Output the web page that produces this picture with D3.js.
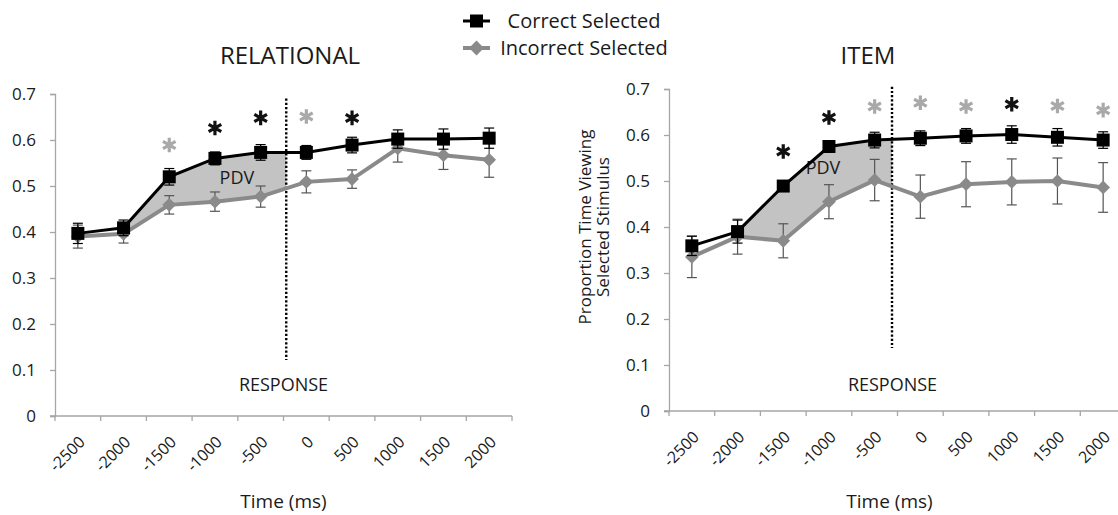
<!DOCTYPE html>
<html>
<head>
<meta charset="utf-8">
<script src="https://cdn.jsdelivr.net/npm/d3@7"></script>
<style>
  body { margin: 0; background: #fff; }
  text { font-family: "Open Sans", "Noto Sans", sans-serif; fill: #1a1a1a; }
</style>
</head>
<body>
<script>
// data
var timeLabels = ["-2500", "-2000", "-1500", "-1000", "-500", "0", "500", "1000", "1500", "2000"];
var yTicks = [0, 0.1, 0.2, 0.3, 0.4, 0.5, 0.6, 0.7];

var relCorrect = [0.397, 0.409, 0.520, 0.560, 0.573, 0.573, 0.589, 0.602, 0.602, 0.604];
var relCorrectErr = [0.022, 0.017, 0.018, 0.014, 0.017, 0.015, 0.017, 0.020, 0.022, 0.022];
var relIncorrect = [0.390, 0.396, 0.459, 0.466, 0.477, 0.509, 0.515, 0.582, 0.567, 0.557];
var relIncorrectErr = [0.025, 0.020, 0.020, 0.021, 0.023, 0.024, 0.020, 0.030, 0.031, 0.038];
var relStarIdx = [2, 3, 4, 5, 6];
var relStarVal = [0.589, 0.626, 0.648, 0.651, 0.648];
var relStarKind = ["incorrect", "correct", "correct", "incorrect", "correct"];

var itemCorrect = [0.359, 0.390, 0.489, 0.575, 0.589, 0.593, 0.598, 0.601, 0.595, 0.589];
var itemCorrectErr = [0.021, 0.025, 0.008, 0.012, 0.017, 0.016, 0.016, 0.019, 0.019, 0.018];
var itemIncorrect = [0.335, 0.379, 0.370, 0.455, 0.502, 0.466, 0.493, 0.498, 0.500, 0.486];
var itemIncorrectErr = [0.045, 0.038, 0.037, 0.037, 0.045, 0.047, 0.049, 0.050, 0.050, 0.054];
var itemStarIdx = [2, 3, 4, 5, 6, 7, 8, 9];
var itemStarVal = [0.564, 0.638, 0.662, 0.670, 0.662, 0.667, 0.663, 0.654];
var itemStarKind = ["correct", "correct", "incorrect", "incorrect", "incorrect", "correct", "incorrect", "incorrect"];

var seriesNames = ["Correct Selected", "Incorrect Selected"];

var colors = { correct: "#000", incorrect: "#8a8a8a", starCorrect: "#111", starIncorrect: "#a9a9a9" };

var svg = d3.select("body").append("svg")
    .attr("width", 1118)
    .attr("height", 515);

var panels = [
    {
        title: "RELATIONAL", titleX: 290, left: 55, top: 94, bottom: 416,
        correct: relCorrect, correctErr: relCorrectErr,
        incorrect: relIncorrect, incorrectErr: relIncorrectErr,
        starIdx: relStarIdx, starVal: relStarVal, starKind: relStarKind,
        respShift: 0.06, respTop: 0.69, respBottom: 0.122,
        pdvPos: 3.98, pdvVal: 0.517, yLabel: false
    },
    {
        title: "ITEM", titleX: 868, left: 669, top: 89, bottom: 411,
        correct: itemCorrect, correctErr: itemCorrectErr,
        incorrect: itemIncorrect, incorrectErr: itemIncorrectErr,
        starIdx: itemStarIdx, starVal: itemStarVal, starKind: itemStarKind,
        respShift: -0.12, respTop: 0.705, respBottom: 0.137,
        pdvPos: 3.37, pdvVal: 0.528, yLabel: true
    }
];

var bandW = 45.7;
var axisColor = "#a6a6a6";

panels.forEach(function (p, pi) {
    var x = d3.scaleBand()
        .domain(timeLabels)
        .range([p.left, p.left + bandW * timeLabels.length])
        .paddingInner(0).paddingOuter(0);
    var y = d3.scaleLinear().domain([0, 0.7]).range([p.bottom, p.top]);
    var cx = function (i) { return x(timeLabels[i]) + x.bandwidth() / 2; };
    // fractional band position -> pixel
    var fx = function (f) { return p.left + f * x.bandwidth(); };

    var g = svg.append("g");

    // y axis
    var yAxis = d3.axisLeft(y).tickValues(yTicks).tickSize(5).tickPadding(14)
        .tickFormat(d3.format(".1~f"));
    var yg = g.append("g").attr("transform", `translate(${p.left},0)`).call(yAxis);
    yg.select(".domain").attr("stroke", axisColor).attr("stroke-width", 1.3);
    yg.selectAll(".tick line").attr("stroke", axisColor).attr("stroke-width", 1.3);
    yg.selectAll(".tick text").style("font-size", "17px").attr("fill", "#1a1a1a")
        .style("font-family", "'Open Sans', sans-serif");

    // x axis, excel style: ticks between categories
    var x0 = x.range()[0], x1 = x.range()[1];
    g.append("line")
        .attr("x1", x0 - 5).attr("x2", x1)
        .attr("y1", y(0)).attr("y2", y(0))
        .attr("stroke", axisColor).attr("stroke-width", 1.3);
    g.selectAll(".xtick")
        .data(d3.range(timeLabels.length + 1))
        .enter().append("line")
        .attr("x1", d => fx(d)).attr("x2", d => fx(d))
        .attr("y1", y(0)).attr("y2", y(0) + 5)
        .attr("stroke", axisColor).attr("stroke-width", 1.3);
    g.selectAll(".xlabel")
        .data(timeLabels)
        .enter().append("text")
        .attr("transform", (d, i) => `translate(${cx(i) + 8},${y(0) + 27}) rotate(-45)`)
        .attr("text-anchor", "end")
        .style("font-size", "16px")
        .text(d => d);

    // axis titles
    g.append("text")
        .attr("x", (x0 + x1) / 2 - (pi === 0 ? 0 : 8)).attr("y", 508)
        .attr("text-anchor", "middle")
        .style("font-size", "19px")
        .text("Time (ms)");

    g.append("text")
        .attr("x", p.titleX).attr("y", 64)
        .attr("text-anchor", "middle")
        .style("font-size", "24px")
        .text(p.title);

    if (p.yLabel) {
        g.append("text")
            .attr("transform", `translate(591,227) rotate(-90)`)
            .attr("text-anchor", "middle")
            .style("font-size", "17px")
            .text("Proportion Time Viewing");
        g.append("text")
            .attr("transform", `translate(609,227) rotate(-90)`)
            .attr("text-anchor", "middle")
            .style("font-size", "17px")
            .text("Selected Stimulus");
    }

    // PDV shading between the two lines up to the response line
    var respX = fx(5 + p.respShift);
    var clipId = "clip" + pi;
    svg.append("clipPath").attr("id", clipId)
        .append("rect")
        .attr("x", cx(1)).attr("y", 0)
        .attr("width", respX - cx(1)).attr("height", 515);
    var area = d3.area()
        .x(d => cx(d))
        .y0(d => y(p.incorrect[d]))
        .y1(d => y(p.correct[d]));
    g.append("path")
        .datum(d3.range(1, 7))
        .attr("d", area)
        .attr("fill", "#c3c3c3")
        .attr("clip-path", `url(#${clipId})`);

    g.append("text")
        .attr("x", fx(p.pdvPos)).attr("y", y(p.pdvVal))
        .attr("text-anchor", "middle")
        .attr("dy", "0.35em")
        .style("font-size", "18px")
        .text("PDV");

    // response line
    g.append("line")
        .attr("x1", respX).attr("x2", respX)
        .attr("y1", y(p.respTop)).attr("y2", y(p.respBottom))
        .attr("stroke", "#000").attr("stroke-width", 2.4)
        .attr("stroke-dasharray", "2.2,2");
    g.append("text")
        .attr("x", fx(5) + (pi === 0 ? 0 : -5)).attr("y", 391)
        .attr("text-anchor", "middle")
        .style("font-size", "18px")
        .text("RESPONSE");

    var idx = d3.range(timeLabels.length);
    var line = function (vals) {
        return d3.line().x(d => cx(d)).y(d => y(vals[d]))(idx);
    };

    // incorrect series (drawn first)
    g.append("path").attr("d", line(p.incorrect))
        .attr("fill", "none").attr("stroke", colors.incorrect).attr("stroke-width", 4);
    drawErr(g, idx, cx, y, p.incorrect, p.incorrectErr, "#555");
    g.selectAll(".dia" + pi)
        .data(idx).enter().append("path")
        .attr("transform", d => `translate(${cx(d)},${y(p.incorrect[d])})`)
        .attr("d", d3.symbol().type(d3.symbolDiamond2 || d3.symbolDiamond).size(120)())
        .attr("fill", colors.incorrect);

    // correct series
    g.append("path").attr("d", line(p.correct))
        .attr("fill", "none").attr("stroke", colors.correct).attr("stroke-width", 3);
    drawErr(g, idx, cx, y, p.correct, p.correctErr, "#000");
    g.selectAll(".sq" + pi)
        .data(idx).enter().append("rect")
        .attr("x", d => cx(d) - 6.5).attr("y", d => y(p.correct[d]) - 6.5)
        .attr("width", 13).attr("height", 13)
        .attr("fill", colors.correct);

    // significance stars
    g.selectAll(".star" + pi)
        .data(p.starIdx).enter().append("path")
        .attr("transform", (d, k) => `translate(${cx(d)},${y(p.starVal[k])})`)
        .attr("d", d3.symbol().type(d3.symbolAsterisk).size(150)())
        .attr("fill", "none")
        .attr("stroke", (d, k) => p.starKind[k] === "correct" ? colors.starCorrect : colors.starIncorrect)
        .attr("stroke-width", 3.2);
});

function drawErr(g, idx, cx, y, vals, errs, col) {
    var eg = g.append("g").attr("stroke", col).attr("stroke-width", 1.2);
    idx.forEach(function (i) {
        var xx = cx(i), hi = y(vals[i] + errs[i]), lo = y(vals[i] - errs[i]);
        eg.append("line").attr("x1", xx).attr("x2", xx).attr("y1", hi).attr("y2", lo);
        eg.append("line").attr("x1", xx - 5).attr("x2", xx + 5).attr("y1", hi).attr("y2", hi);
        eg.append("line").attr("x1", xx - 5).attr("x2", xx + 5).attr("y1", lo).attr("y2", lo);
    });
}

// legend
var legend = svg.append("g");
var legY = [21, 48];
legend.selectAll(".legline").data(seriesNames).enter().append("line")
    .attr("x1", 463).attr("x2", 490)
    .attr("y1", (d, i) => legY[i]).attr("y2", (d, i) => legY[i])
    .attr("stroke", (d, i) => i === 0 ? colors.correct : colors.incorrect)
    .attr("stroke-width", (d, i) => i === 0 ? 3 : 4);
legend.append("rect").attr("x", 470).attr("y", legY[0] - 6.5).attr("width", 13).attr("height", 13)
    .attr("fill", colors.correct);
legend.append("path")
    .attr("transform", `translate(476.5,${legY[1]})`)
    .attr("d", d3.symbol().type(d3.symbolDiamond2 || d3.symbolDiamond).size(140)())
    .attr("fill", colors.incorrect);
legend.selectAll(".legtext").data(seriesNames).enter().append("text")
    .attr("x", 584).attr("y", (d, i) => legY[i] + 7)
    .attr("text-anchor", "middle")
    .style("font-size", "20px")
    .text(d => d);
</script>
</body>
</html>
